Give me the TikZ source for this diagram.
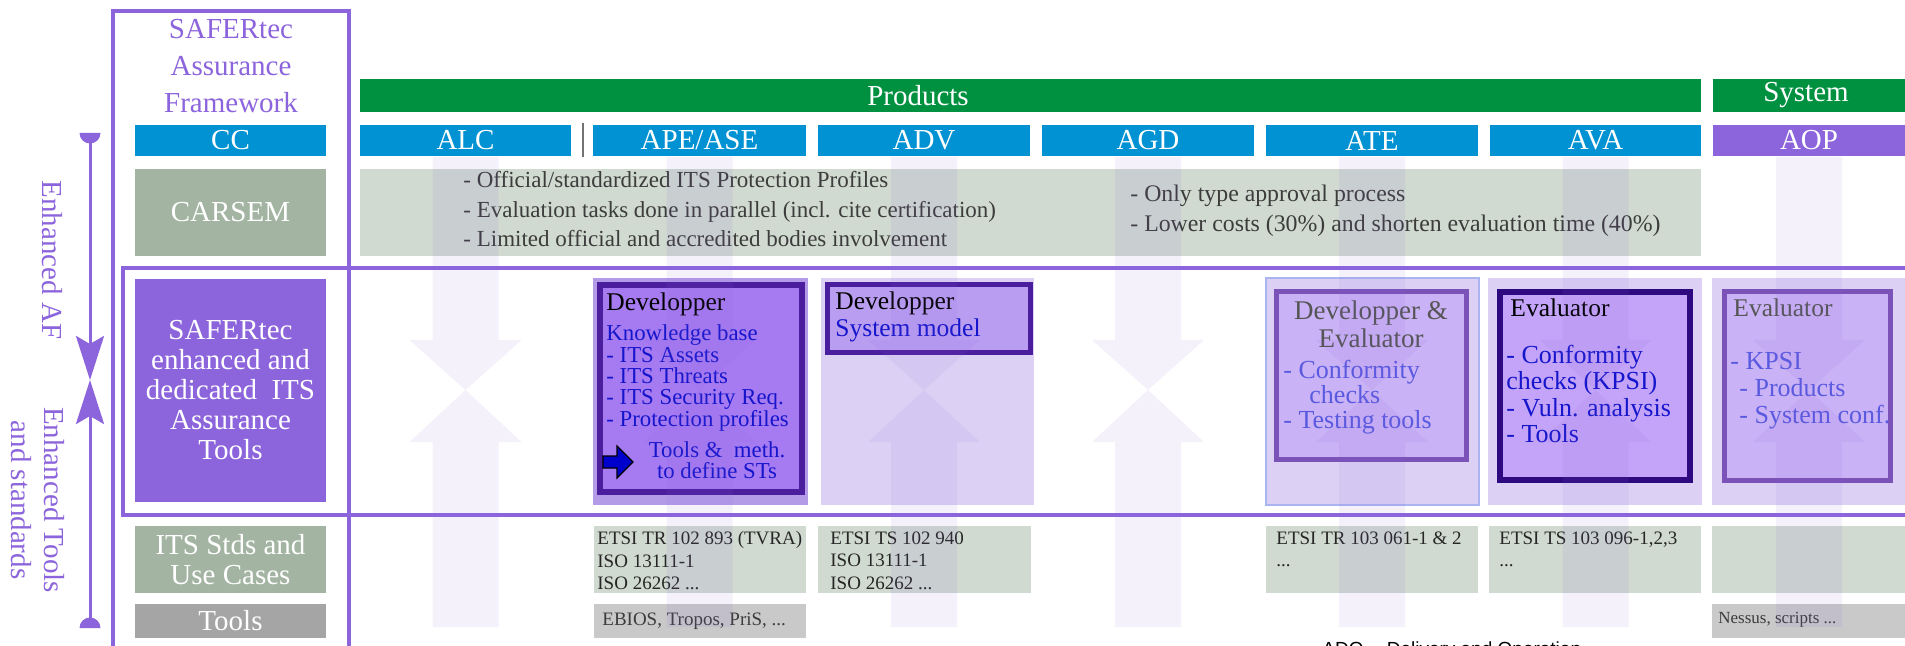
\documentclass[tikz,border=0pt]{standalone}
\usepackage{fontspec}
\setmainfont{Liberation Serif}
\newfontfamily\sansfont{Liberation Sans}
\usetikzlibrary{arrows.meta,fit}

\newcommand{\setfs}[2]{\fontsize{#1}{#2}\selectfont}

\definecolor{vio}{HTML}{8C64DC}
\definecolor{ccblue}{HTML}{0092D2}
\definecolor{prodgreen}{HTML}{009140}
\definecolor{sage}{HTML}{A3B5A2}
\definecolor{sagelight}{HTML}{D0DAD0}
\definecolor{greyd}{HTML}{A5A5A5}
\definecolor{greyl}{HTML}{C9C9C9}
\definecolor{lav}{HTML}{DCD1F4}
\definecolor{apebg}{HTML}{B39BE8}
\definecolor{apefill}{HTML}{A67AF0}
\definecolor{deepvio}{HTML}{4B1E9E}
\definecolor{advfill}{HTML}{B99DF0}
\definecolor{midvio}{HTML}{7A52B8}
\definecolor{softfill}{HTML}{C9B2F5}
\definecolor{darkvio}{HTML}{2E0A80}
\definecolor{avafill}{HTML}{C4A4F8}
\definecolor{kbblue}{HTML}{1515CC}
\definecolor{softblue}{HTML}{5A5AE0}
\definecolor{ateline}{HTML}{A9B4F0}
\definecolor{arrblue}{HTML}{0000CC}
\definecolor{inkgrey}{HTML}{3C3C3C}
\definecolor{midgrey}{HTML}{555555}

\begin{document}
\begin{tikzpicture}[x=0.5pt,y=-0.5pt,
  box/.style={inner sep=0pt,outer sep=0pt},
  lbltxt/.style={inner sep=0pt,text=white,align=center,font=\setfs{14.5}{15}},
  frameline/.style={draw=vio,line width=1.75pt},
  txt/.style={inner sep=0pt,anchor=north west,align=left},
  stdtxt/.style={txt,text=black!85,font=\setfs{9.5}{11.25}},
  tooltxt/.style={inner sep=0pt,anchor=west,text=inkgrey},
  ghost/.style={fill=vio,fill opacity=0.09}
]
\useasboundingbox (0,0) rectangle (1905,646);
\clip (0,0) rectangle (1905,646);
\fill[white] (0,0) rectangle (1905,646);

% ---------- framework frames ----------
\draw[frameline] (113,11) rectangle (349,680);
\draw[frameline] (123,268) rectangle (1940,515);

\node[inner sep=0pt,text=vio,align=center,font=\setfs{14.5}{18.5}] (title) at (231,66)
  {SAFERtec\\Assurance\\Framework};

% ---------- left column labels ----------
\node[box,fill=ccblue,fit={(135,125) (326,156)}] (cc) {};
\node[lbltxt] (cctxt) at (cc.center) {CC};
\node[box,fill=sage,fit={(135,169) (326,256)}] (carsem) {};
\node[lbltxt] (carsemtxt) at (carsem.center) {CARSEM};
\node[box,fill=vio,fit={(135,279) (326,502)}] (enh) {};
\node[lbltxt] (enhtxt) at (enh.center)
  {SAFERtec\\enhanced and\\dedicated\ \ ITS\\Assurance\\Tools};
\node[box,fill=sage,fit={(135,526) (326,593)}] (stds) {};
\node[lbltxt] (stdstxt) at (stds.center) {ITS Stds and\\Use Cases};
\node[box,fill=greyd,fit={(135,604) (326,638)}] (tools) {};
\node[lbltxt] (toolstxt) at (tools.center) {Tools};

% ---------- header bars ----------
\node[box,fill=prodgreen,fit={(360,79) (1701,112)}] (products) {};
\node[lbltxt] (productstxt) at (918,95.5) {Products};
\node[box,fill=prodgreen,fit={(1713,79) (1930,112)}] (system) {};
\node[lbltxt] (systemtxt) at (1806,95.5) {System};

\node[box,fill=ccblue,fit={(360,125) (571,156)}] (alc) {};
\node[lbltxt] (alctxt) at (alc.center) {ALC};
\node[box,fill=ccblue,fit={(593,125) (806,156)}] (ape) {};
\node[lbltxt] (apetxt) at (ape.center) {APE/ASE};
\node[box,fill=ccblue,fit={(818,125) (1030,156)}] (adv) {};
\node[lbltxt] (advtxt) at (adv.center) {ADV};
\node[box,fill=ccblue,fit={(1042,125) (1254,156)}] (agd) {};
\node[lbltxt] (agdtxt) at (agd.center) {AGD};
\node[box,fill=ccblue,fit={(1266,125) (1478,156)}] (ate) {};
\node[lbltxt] (atetxt) at (ate.center) {ATE};
\node[box,fill=ccblue,fit={(1490,125) (1701,156)}] (ava) {};
\node[lbltxt] (avatxt) at (ava.center) {AVA};
\node[box,fill=vio,fit={(1713,125) (1930,156)}] (aop) {};
\node[lbltxt] (aoptxt) at (1809,140.5) {AOP};
\coordinate (septop) at (583,123);
\coordinate (sepbot) at (583,157);
\draw[black!55,line width=0.8pt] (septop) -- (sepbot);

% ---------- CARSEM row ----------
\node[box,fill=sagelight,fit={(360,169) (1701,256)}] (carsemrow) {};
\node[txt,anchor=west,text=inkgrey,font=\setfs{11.5}{14.75}] (carsemleft) at (463,209.5)
  {- Official/standardized ITS Protection Profiles\\
   - Evaluation tasks done in parallel (incl. cite certification)\\
   - Limited official and accredited bodies involvement};
\node[txt,anchor=west,text=inkgrey,font=\setfs{11.9}{14.75}] (carsemright) at (1130,211)
  {- Only type approval process\\
   - Lower costs (30\%) and shorten evaluation time (40\%)};

% ---------- SAFERtec tools row ----------
% APE/ASE
\node[box,fill=apebg,fit={(593,278) (808,505)}] (apecell) {};
\node[box,draw=deepvio,line width=3pt,fill=apefill,fit={(600,285) (802,492)}] (apebox) {};
\node[inner sep=0pt,anchor=base west,font=\setfs{12.75}{13}] (apehead) at (606,311) {Developper};
\node[txt,text=kbblue,font=\setfs{11.4}{10.7}] (apelist) at (606,324.5)
  {Knowledge base\\- ITS Assets\\- ITS Threats\\- ITS Security Req.\\- Protection profiles};
\node[inner sep=0pt,anchor=north,align=center,text=kbblue,font=\setfs{11.4}{10.5}] (apetools) at (717,441.5)
  {Tools \&\ \ meth.\\to define STs};
\draw[fill=arrblue,draw=black,line width=0.6pt]
  (603,456) -- (617,456) -- (617,446) -- (633,462) -- (617,478) -- (617,468) -- (603,468) -- cycle;

% ADV
\node[box,fill=lav,fit={(821,278) (1034,505)}] (advcell) {};
\node[box,draw=deepvio,line width=2.5pt,fill=advfill,fit={(827.5,284.5) (1030.5,352.5)}] (advbox) {};
\node[inner sep=0pt,anchor=base west,font=\setfs{12.75}{13}] (advhead) at (835,310) {Developper};
\node[inner sep=0pt,anchor=base west,text=kbblue,font=\setfs{12.75}{13}] (advmodel) at (835,337) {System model};

% ATE
\node[box,fill=lav,draw=ateline,line width=0.8pt,fit={(1266,278) (1479,505)}] (atecell) {};
\node[box,draw=midvio,line width=2.25pt,fill=softfill,fit={(1276.5,291.5) (1466.5,459.5)}] (atebox) {};
\node[inner sep=0pt,anchor=north,align=center,text=midgrey,font=\setfs{13.5}{14}] (atehead) at (1371,300)
  {Developper \&\\Evaluator};
\node[txt,text=softblue,font=\setfs{13}{12.5}] (atelist) at (1283,359.3)
  {- Conformity\\\hspace*{13pt}checks\\- Testing tools};

% AVA
\node[box,fill=lav,fit={(1488,278) (1702,505)}] (avacell) {};
\node[box,draw=darkvio,line width=2.75pt,fill=avafill,fit={(1500,292) (1690,480)}] (avabox) {};
\node[inner sep=0pt,anchor=base west,font=\setfs{12.75}{13}] (avahead) at (1510,317) {Evaluator};
\node[txt,text=kbblue,font=\setfs{13}{13.25}] (avalist) at (1506,344.3)
  {- Conformity\\checks (KPSI)\\- Vuln. analysis\\- Tools};

% AOP
\node[box,fill=lav,fit={(1712,278) (1930,505)}] (aopcell) {};
\node[box,draw=midvio,line width=2.25pt,fill=softfill,fit={(1724.5,291.5) (1890.5,480.5)}] (aopbox) {};
\node[inner sep=0pt,anchor=base west,text=midgrey,font=\setfs{12.75}{13}] (aophead) at (1733,317) {Evaluator};
\node[txt,text=softblue,font=\setfs{13}{13.5}] (aoplist) at (1730,352.3)
  {- KPSI\\\hspace*{4.5pt}- Products\\\hspace*{4.5pt}- System conf.};

% ---------- standards row ----------
\node[box,fill=sagelight,fit={(594,526) (806,593)}] (apestd) {};
\node[box,fill=sagelight,fit={(818,526) (1031,593)}] (advstd) {};
\node[box,fill=sagelight,fit={(1266,526) (1478,593)}] (atestd) {};
\node[box,fill=sagelight,fit={(1489,526) (1701,593)}] (avastd) {};
\node[box,fill=sagelight,fit={(1712,526) (1930,593)}] (aopstd) {};
\node[stdtxt] (apestdtxt) at (597,531) {ETSI TR 102 893 (TVRA)\\ISO 13111-1\\ISO 26262 ...};
\node[stdtxt] (advstdtxt) at (830,531) {ETSI TS 102 940\\ISO 13111-1\\ISO 26262 ...};
\node[stdtxt] (atestdtxt) at (1276,531) {ETSI TR 103 061-1 \& 2\\...};
\node[stdtxt] (avastdtxt) at (1499,531) {ETSI TS 103 096-1,2,3\\...};

% ---------- tools row ----------
\node[box,fill=greyl,fit={(594,604) (806,638)}] (apetool) {};
\node[box,fill=greyl,fit={(1712,604) (1930,638)}] (aoptool) {};
\node[tooltxt,font=\setfs{9.5}{11}] (apetooltxt) at (602,621) {EBIOS, Tropos, PriS, ...};
\node[tooltxt,font=\setfs{8.5}{10}] (aoptooltxt) at (1718,620) {Nessus, scripts ...};

% ---------- faint two-way arrows behind every column ----------
\foreach \c in {465.5,699.5,924,1148,1372,1595.5,1809}{
  \fill[ghost] (\c-33,157) -- (\c+33,157) -- (\c+33,340) -- (\c+56,340) -- (\c,390)
     -- (\c-56,340) -- (\c-33,340) -- cycle;
  \fill[ghost] (\c,390) -- (\c+56,442) -- (\c+33,442) -- (\c+33,627) -- (\c-33,627)
     -- (\c-33,442) -- (\c-56,442) -- cycle;
}

% ---------- left scale arrow ----------
\coordinate (scaletop) at (90,133);
\coordinate (scalemid) at (90,380);
\coordinate (scalebot) at (90,628);
\draw[vio,line width=1.5pt,-{Stealth[length=22pt,width=14pt,inset=4pt]}] (scaletop) -- (scalemid);
\draw[vio,line width=1.5pt,-{Stealth[length=22pt,width=14pt,inset=4pt]}] (scalebot) -- (scalemid);
\fill[vio] (79.5,133) -- (100.5,133) arc[start angle=0,end angle=180,radius=10.5] -- cycle;
\fill[vio] (79.5,628) -- (100.5,628) arc[start angle=0,end angle=-180,radius=10.5] -- cycle;
\node[inner sep=0pt,rotate=-90,text=vio,font=\setfs{14.5}{16}] (enhaf) at (52,260) {Enhanced AF};
\node[inner sep=0pt,rotate=-90,align=center,text=vio,font=\setfs{14.5}{16.5}] (enhtools) at (38,500)
  {Enhanced Tools\\and standards};

% ---------- footnote line, cut by the lower edge ----------
\node[inner sep=0pt,anchor=base west,font=\sansfont\setfs{9.5}{11}] (ado) at (1322,655)
  {ADO -- Delivery and Operation};
\end{tikzpicture}
\end{document}
